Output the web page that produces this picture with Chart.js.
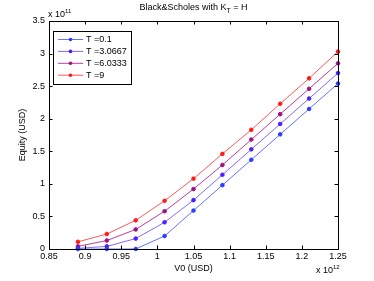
<!DOCTYPE html>
<html>
<head>
<meta charset="utf-8">
<script src="https://cdn.jsdelivr.net/npm/chart.js"></script>
<style>
  html, body { margin: 0; padding: 0; background: #fff; }
  #wrap { width: 374px; height: 281px; }
</style>
</head>
<body>
<div id="wrap"><canvas id="chart" width="374" height="281"></canvas></div>
<script>
// V0 values (x 10^12) and equity (x 10^11)
const v0 = [0.89, 0.93, 0.97, 1.01, 1.05, 1.09, 1.13, 1.17, 1.21, 1.25];
const eqT01 = [0, 0, 0, 0.20, 0.59, 0.98, 1.37, 1.76, 2.15, 2.54];
const eqT30667 = [0.01, 0.04, 0.16, 0.41, 0.75, 1.14, 1.53, 1.92, 2.31, 2.70];
const eqT60333 = [0.04, 0.13, 0.30, 0.58, 0.92, 1.29, 1.68, 2.07, 2.46, 2.85];
const eqT9 = [0.11, 0.23, 0.44, 0.74, 1.08, 1.46, 1.83, 2.23, 2.62, 3.03];
const seriesNames = ['T =0.1', 'T =3.0667', 'T =6.0333', 'T =9'];
const xTicks = [0.85, 0.9, 0.95, 1, 1.05, 1.1, 1.15, 1.2, 1.25];
const yTicks = [0, 0.5, 1, 1.5, 2, 2.5, 3, 3.5];

const lineColors = ['rgba(70,90,255,0.85)', 'rgba(110,80,255,0.85)', 'rgba(170,30,140,0.85)', 'rgba(255,60,60,0.85)'];
const markColors = ['#2a3cff', '#4a1cff', '#a0107f', '#ff1a1a'];
const FONT = '9px "Liberation Sans", Arial, sans-serif';

function pts(ys) { return v0.map((x, i) => ({ x: x, y: ys[i] })); }

const frame = {
  id: 'frame',
  afterDatasetsDraw(chart) {
    const ctx = chart.ctx, a = chart.chartArea;
    const xs = chart.scales.x, ys = chart.scales.y;
    ctx.save();
    ctx.strokeStyle = '#000';
    ctx.lineWidth = 1;
    ctx.strokeRect(a.left + 0.5, a.top + 0.5, a.right - a.left, a.bottom - a.top);
    const tl = 3.5;
    ctx.beginPath();
    xTicks.forEach(t => {
      const px = Math.round(xs.getPixelForValue(t)) + 0.5;
      ctx.moveTo(px, a.bottom); ctx.lineTo(px, a.bottom - tl);
      ctx.moveTo(px, a.top); ctx.lineTo(px, a.top + tl);
    });
    yTicks.forEach(t => {
      const py = Math.round(ys.getPixelForValue(t)) + 0.5;
      ctx.moveTo(a.left, py); ctx.lineTo(a.left + tl, py);
      ctx.moveTo(a.right, py); ctx.lineTo(a.right - tl, py);
    });
    ctx.stroke();

    // legend
    const lx = 53, ly = 31, lw = 78, lh = 53;
    ctx.fillStyle = '#fff';
    ctx.fillRect(lx, ly, lw, lh);
    ctx.strokeRect(lx + 0.5, ly + 0.5, lw, lh);
    ctx.font = FONT;
    ctx.textBaseline = 'middle';
    ctx.textAlign = 'left';
    seriesNames.forEach((n, i) => {
      const yy = 39.5 + i * 11.9;
      ctx.strokeStyle = lineColors[i];
      ctx.beginPath(); ctx.moveTo(58, yy); ctx.lineTo(83, yy); ctx.stroke();
      ctx.fillStyle = markColors[i];
      ctx.beginPath(); ctx.arc(70.5, yy, 1.8, 0, Math.PI * 2); ctx.fill();
      ctx.fillStyle = '#000';
      ctx.fillText(n, 86, yy + 0.5);
    });

    // texts
    ctx.fillStyle = '#000';
    ctx.textAlign = 'center';
    ctx.fillText('V0 (USD)', (a.left + a.right) / 2, 269);
    // title with subscript
    const t1 = 'Black&Scholes with K', t2 = 'T', t3 = ' = H';
    ctx.font = FONT;
    const w1 = ctx.measureText(t1).width, w3 = ctx.measureText(t3).width;
    ctx.font = '7px "Liberation Sans", Arial, sans-serif';
    const w2 = ctx.measureText(t2).width;
    let sx = (a.left + a.right) / 2 - (w1 + w2 + w3) / 2;
    ctx.textAlign = 'left';
    ctx.font = FONT;
    ctx.fillText(t1, sx, 8);
    ctx.font = '7px "Liberation Sans", Arial, sans-serif';
    ctx.fillText(t2, sx + w1, 11);
    ctx.font = FONT;
    ctx.fillText(t3, sx + w1 + w2, 8);
    // exponents
    ctx.fillText('x 10', 48, 15);
    ctx.font = '6px "Liberation Sans", Arial, sans-serif';
    ctx.fillText('11', 48 + 17, 11);
    ctx.font = FONT;
    ctx.fillText('x 10', 316, 271);
    ctx.font = '6px "Liberation Sans", Arial, sans-serif';
    ctx.fillText('12', 316 + 17, 267);
    // y title
    ctx.font = FONT;
    ctx.translate(23, (a.top + a.bottom) / 2);
    ctx.rotate(-Math.PI / 2);
    ctx.textAlign = 'center';
    ctx.fillText('Equity (USD)', 0, 0);
    ctx.restore();
  }
};

const allSeries = [eqT01, eqT30667, eqT60333, eqT9];

new Chart(document.getElementById('chart'), {
  type: 'line',
  data: {
    datasets: allSeries.map((s, i) => ({
      label: seriesNames[i],
      data: pts(s),
      borderColor: lineColors[i],
      backgroundColor: markColors[i],
      pointBackgroundColor: markColors[i],
      pointBorderColor: markColors[i],
      pointRadius: 1.8,
      borderWidth: 1,
      tension: 0,
      clip: false
    }))
  },
  plugins: [frame],
  options: {
    responsive: false,
    animation: false,
    layout: { padding: { top: 21, right: 36, left: 0, bottom: 0 } },
    plugins: { legend: { display: false }, tooltip: { enabled: false } },
    scales: {
      x: {
        type: 'linear', min: 0.85, max: 1.25,
        afterBuildTicks: s => { s.ticks = xTicks.map(v => ({ value: v })); },
        afterFit: s => { s.height = 32; },
        grid: { display: false, drawTicks: false },
        border: { display: false },
        ticks: { color: '#000', font: { family: 'Liberation Sans', size: 9 }, padding: 2, maxRotation: 0,
          callback: v => String(Math.round(v * 100) / 100) }
      },
      y: {
        type: 'linear', min: 0, max: 3.5,
        afterBuildTicks: s => { s.ticks = yTicks.map(v => ({ value: v })); },
        afterFit: s => { s.width = 49; },
        grid: { display: false, drawTicks: false },
        border: { display: false },
        ticks: { color: '#000', font: { family: 'Liberation Sans', size: 9 }, padding: 4,
          callback: v => String(v) }
      }
    }
  }
});
</script>
</body>
</html>
